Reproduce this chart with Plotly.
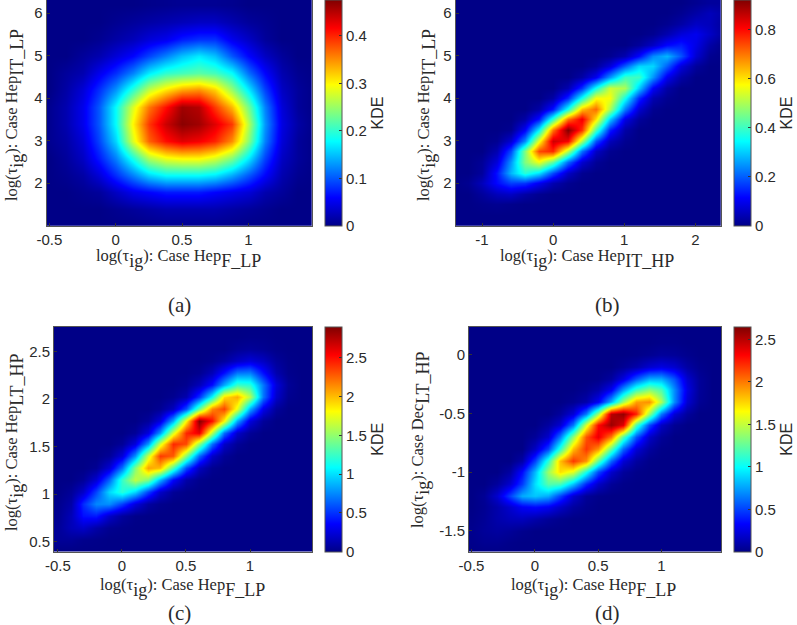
import plotly.graph_objects as go

# jet colormap
jet = [[0, "rgb(0,0,135)"], [0.125, "rgb(0,0,255)"], [0.375, "rgb(0,255,255)"],
       [0.625, "rgb(255,255,0)"], [0.875, "rgb(255,0,0)"], [1, "rgb(128,0,0)"]]

# panel (a)
a_x = [-0.5, -0.375, -0.25, -0.125, 0, 0.125, 0.25, 0.375, 0.5, 0.625, 0.75, 0.875, 1, 1.125, 1.25, 1.375, 1.5]
a_y = [1.0, 1.4, 1.8, 2.2, 2.6, 3.0, 3.4, 3.8, 4.2, 4.6, 5.0, 5.4, 5.8, 6.2]
a_z = [
    [0, 0, 0, 0, 0, 0, .002, .004, .004, .004, .004, .002, 0, 0, 0, 0, 0],
    [0, 0, 0, 0, .005, .01, .015, .02, .02, .02, .02, .015, .01, .005, 0, 0, 0],
    [0, 0, .005, .01, .03, .05, .06, .07, .07, .07, .06, .05, .04, .02, .01, 0, 0],
    [0, .005, .015, .04, .08, .12, .16, .18, .18, .18, .17, .14, .1, .06, .02, .005, 0],
    [0, .01, .03, .07, .12, .19, .26, .29, .30, .30, .28, .24, .17, .09, .03, .01, 0],
    [.005, .015, .04, .09, .16, .28, .37, .41, .43, .42, .4, .35, .24, .12, .04, .01, 0],
    [.005, .02, .05, .1, .18, .3, .39, .44, .47, .46, .43, .39, .26, .13, .045, .015, 0],
    [.005, .02, .05, .1, .18, .28, .36, .41, .46, .45, .39, .33, .23, .12, .04, .01, 0],
    [0, .015, .04, .08, .13, .2, .27, .31, .34, .35, .32, .25, .17, .09, .03, .01, 0],
    [0, .01, .02, .05, .08, .12, .17, .2, .21, .22, .21, .18, .11, .06, .02, .005, 0],
    [0, 0, .01, .02, .04, .06, .09, .12, .15, .17, .15, .1, .06, .03, .01, 0, 0],
    [0, 0, 0, .005, .015, .025, .04, .05, .07, .08, .08, .05, .03, .01, 0, 0, 0],
    [0, 0, 0, 0, .005, .01, .015, .02, .025, .03, .03, .02, .01, .005, 0, 0, 0],
    [0, 0, 0, 0, 0, 0, .002, .004, .006, .006, .006, .004, 0, 0, 0, 0, 0],
]

# panel (b)
b_x = [-1.4, -1.2, -1.0, -0.8, -0.6, -0.4, -0.2, 0, 0.2, 0.4, 0.6, 0.8, 1.0, 1.2, 1.4, 1.6, 1.8, 2.0, 2.2, 2.4]
b_y = [1.0, 1.25, 1.5, 1.75, 2.0, 2.25, 2.5, 2.75, 3.0, 3.25, 3.5, 3.75, 4.0, 4.25, 4.5, 4.75, 5.0, 5.25, 5.5, 5.75, 6.0, 6.25]
b_z = [
    [0, 0, 0, 0, 0, 0, 0, 0, 0, 0, 0, 0, 0, 0, 0, 0, 0, 0, 0, 0],
    [0, 0, 0, 0, 0, 0, 0, 0, 0, 0, 0, 0, 0, 0, 0, 0, 0, 0, 0, 0],
    [0, 0, .005, .01, .005, 0, 0, 0, 0, 0, 0, 0, 0, 0, 0, 0, 0, 0, 0, 0],
    [0, 0, .02, .05, .06, .03, .01, 0, 0, 0, 0, 0, 0, 0, 0, 0, 0, 0, 0, 0],
    [0, .01, .05, .12, .17, .16, .1, .04, .01, 0, 0, 0, 0, 0, 0, 0, 0, 0, 0, 0],
    [0, 0, .02, .13, .28, .38, .32, .18, .06, .01, 0, 0, 0, 0, 0, 0, 0, 0, 0, 0],
    [0, 0, .015, .08, .25, .46, .56, .43, .21, .07, .015, 0, 0, 0, 0, 0, 0, 0, 0, 0],
    [0, 0, 0, .04, .18, .46, .74, .77, .51, .22, .06, .01, 0, 0, 0, 0, 0, 0, 0, 0],
    [0, 0, 0, .01, .07, .24, .56, .85, .81, .5, .19, .05, .01, 0, 0, 0, 0, 0, 0, 0],
    [0, 0, 0, 0, .01, .11, .34, .7, .92, .76, .41, .14, .03, 0, 0, 0, 0, 0, 0, 0],
    [0, 0, 0, 0, 0, .03, .13, .39, .7, .82, .6, .3, .09, .02, 0, 0, 0, 0, 0, 0],
    [0, 0, 0, 0, 0, 0, .03, .13, .36, .63, .71, .5, .23, .07, .01, 0, 0, 0, 0, 0],
    [0, 0, 0, 0, 0, 0, 0, .03, .15, .36, .57, .57, .36, .15, .04, .01, 0, 0, 0, 0],
    [0, 0, 0, 0, 0, 0, 0, 0, .04, .16, .36, .53, .5, .3, .11, .03, 0, 0, 0, 0],
    [0, 0, 0, 0, 0, 0, 0, 0, 0, .03, .1, .25, .4, .4, .25, .1, .03, 0, 0, 0],
    [0, 0, 0, 0, 0, 0, 0, 0, 0, 0, .02, .08, .2, .31, .31, .2, .08, .02, 0, 0],
    [0, 0, 0, 0, 0, 0, 0, 0, 0, 0, 0, .01, .04, .12, .24, .28, .19, .07, .01, 0],
    [0, 0, 0, 0, 0, 0, 0, 0, 0, 0, 0, 0, 0, .02, .06, .12, .14, .09, .03, 0],
    [0, 0, 0, 0, 0, 0, 0, 0, 0, 0, 0, 0, 0, 0, .01, .04, .08, .1, .06, .02],
    [0, 0, 0, 0, 0, 0, 0, 0, 0, 0, 0, 0, 0, 0, 0, .01, .03, .06, .05, .02],
    [0, 0, 0, 0, 0, 0, 0, 0, 0, 0, 0, 0, 0, 0, 0, 0, .01, .03, .05, .03],
    [0, 0, 0, 0, 0, 0, 0, 0, 0, 0, 0, 0, 0, 0, 0, 0, 0, .01, .02, .02],
]

# panel (c)
c_x = [-0.5, -0.4, -0.3, -0.2, -0.1, 0, 0.1, 0.2, 0.3, 0.4, 0.5, 0.6, 0.7, 0.8, 0.9, 1.0, 1.1, 1.2, 1.3, 1.4, 1.5]
c_y = [0.4, 0.525, 0.65, 0.775, 0.9, 1.025, 1.15, 1.275, 1.4, 1.525, 1.65, 1.775, 1.9, 2.025, 2.15, 2.275, 2.4, 2.525, 2.65, 2.775]
c_z = [
    [0, 0, 0, 0, 0, 0, 0, 0, 0, 0, 0, 0, 0, 0, 0, 0, 0, 0, 0, 0, 0],
    [.05, .05, .02, .01, 0, 0, 0, 0, 0, 0, 0, 0, 0, 0, 0, 0, 0, 0, 0, 0, 0],
    [.05, .15, .2, .1, .03, .01, 0, 0, 0, 0, 0, 0, 0, 0, 0, 0, 0, 0, 0, 0, 0],
    [.03, .15, .4, .43, .2, .07, .01, 0, 0, 0, 0, 0, 0, 0, 0, 0, 0, 0, 0, 0, 0],
    [.02, .1, .48, .75, .77, .54, .26, .08, .02, 0, 0, 0, 0, 0, 0, 0, 0, 0, 0, 0, 0],
    [0, .05, .2, .55, .98, 1.2, .98, .55, .2, .05, .01, 0, 0, 0, 0, 0, 0, 0, 0, 0, 0],
    [0, 0, .05, .23, .64, 1.24, 1.63, 1.45, .87, .36, .1, .02, 0, 0, 0, 0, 0, 0, 0, 0, 0],
    [0, 0, 0, .04, .23, .69, 1.46, 2.08, 2.0, 1.3, .58, .17, .03, 0, 0, 0, 0, 0, 0, 0, 0],
    [0, 0, 0, 0, .05, .25, .78, 1.67, 2.38, 2.28, 1.47, .66, .2, .05, 0, 0, 0, 0, 0, 0, 0],
    [0, 0, 0, 0, 0, .05, .26, .8, 1.7, 2.43, 2.33, 1.5, .68, .2, .05, 0, 0, 0, 0, 0, 0],
    [0, 0, 0, 0, 0, 0, .05, .26, .8, 1.7, 2.43, 2.6, 1.6, .68, .2, .05, 0, 0, 0, 0, 0],
    [0, 0, 0, 0, 0, 0, 0, .06, .26, .85, 1.82, 2.88, 2.5, 1.82, .85, .26, .06, 0, 0, 0, 0],
    [0, 0, 0, 0, 0, 0, 0, 0, .04, .17, .58, 1.37, 2.15, 2.35, 1.75, .85, .3, .06, 0, 0, 0],
    [0, 0, 0, 0, 0, 0, 0, 0, 0, .03, .12, .5, 1.1, 1.9, 2.05, 1.6, .7, .2, .03, 0, 0],
    [0, 0, 0, 0, 0, 0, 0, 0, 0, 0, .03, .15, .4, .85, 1.25, 1.2, .7, .25, .05, 0, 0],
    [0, 0, 0, 0, 0, 0, 0, 0, 0, 0, 0, .03, .15, .4, .7, .72, .4, .12, .02, 0, 0],
    [0, 0, 0, 0, 0, 0, 0, 0, 0, 0, 0, 0, .02, .08, .18, .25, .18, .06, .01, 0, 0],
    [0, 0, 0, 0, 0, 0, 0, 0, 0, 0, 0, 0, 0, 0, .04, .06, .04, .01, 0, 0, 0],
    [0, 0, 0, 0, 0, 0, 0, 0, 0, 0, 0, 0, 0, 0, 0, .01, .01, 0, 0, 0, 0],
    [0, 0, 0, 0, 0, 0, 0, 0, 0, 0, 0, 0, 0, 0, 0, 0, 0, 0, 0, 0, 0],
]

# panel (d)
d_x = [-0.5, -0.4, -0.3, -0.2, -0.1, 0, 0.1, 0.2, 0.3, 0.4, 0.5, 0.6, 0.7, 0.8, 0.9, 1.0, 1.1, 1.2, 1.3, 1.4, 1.5]
d_y = [-1.7, -1.6, -1.5, -1.4, -1.3, -1.2, -1.1, -1.0, -0.9, -0.8, -0.7, -0.6, -0.5, -0.4, -0.3, -0.2, -0.1, 0, 0.1, 0.2, 0.3]
d_z = [
    [0, 0, 0, 0, 0, 0, 0, 0, 0, 0, 0, 0, 0, 0, 0, 0, 0, 0, 0, 0, 0],
    [.01, .03, .03, .01, 0, 0, 0, 0, 0, 0, 0, 0, 0, 0, 0, 0, 0, 0, 0, 0, 0],
    [.02, .05, .07, .05, .02, 0, 0, 0, 0, 0, 0, 0, 0, 0, 0, 0, 0, 0, 0, 0, 0],
    [.01, .04, .1, .14, .15, .1, .05, .02, 0, 0, 0, 0, 0, 0, 0, 0, 0, 0, 0, 0, 0],
    [0, .03, .1, .2, .31, .35, .3, .18, .07, .02, 0, 0, 0, 0, 0, 0, 0, 0, 0, 0, 0],
    [0, .04, .2, .5, .78, .85, .78, .5, .2, .05, .01, 0, 0, 0, 0, 0, 0, 0, 0, 0, 0],
    [0, 0, .06, .2, .48, .92, 1.22, 1.18, .85, .43, .18, .05, .01, 0, 0, 0, 0, 0, 0, 0, 0],
    [0, 0, 0, .08, .35, .82, 1.4, 1.74, 1.58, 1.05, .52, .19, .06, .01, 0, 0, 0, 0, 0, 0, 0],
    [0, 0, 0, 0, .09, .5, 1.1, 1.82, 2.18, 1.94, 1.25, .6, .22, .07, .01, 0, 0, 0, 0, 0, 0],
    [0, 0, 0, 0, 0, .17, .5, 1.1, 1.82, 2.18, 1.94, 1.25, .6, .22, .07, .01, 0, 0, 0, 0, 0],
    [0, 0, 0, 0, 0, .05, .19, .65, 1.37, 2.1, 2.38, 2.0, 1.2, .55, .18, .05, 0, 0, 0, 0, 0],
    [0, 0, 0, 0, 0, 0, .07, .2, .64, 1.55, 2.3, 2.58, 2.4, 1.2, .52, .17, .04, 0, 0, 0, 0],
    [0, 0, 0, 0, 0, 0, 0, .06, .22, .65, 1.4, 2.5, 2.6, 2.24, 1.4, .65, .22, .06, 0, 0, 0],
    [0, 0, 0, 0, 0, 0, 0, 0, .03, .1, .3, .8, 1.4, 1.9, 1.95, 1.45, .7, .2, .04, 0, 0],
    [0, 0, 0, 0, 0, 0, 0, 0, 0, .03, .1, .3, .75, 1.15, 1.35, 1.2, .7, .25, .05, 0, 0],
    [0, 0, 0, 0, 0, 0, 0, 0, 0, 0, .01, .07, .25, .55, .78, .78, .55, .2, .05, 0, 0],
    [0, 0, 0, 0, 0, 0, 0, 0, 0, 0, 0, 0, .04, .1, .2, .25, .2, .08, .02, 0, 0],
    [0, 0, 0, 0, 0, 0, 0, 0, 0, 0, 0, 0, 0, .01, .03, .06, .05, .02, 0, 0, 0],
    [0, 0, 0, 0, 0, 0, 0, 0, 0, 0, 0, 0, 0, 0, 0, .01, .01, 0, 0, 0, 0],
    [0, 0, 0, 0, 0, 0, 0, 0, 0, 0, 0, 0, 0, 0, 0, 0, 0, 0, 0, 0, 0],
    [0, 0, 0, 0, 0, 0, 0, 0, 0, 0, 0, 0, 0, 0, 0, 0, 0, 0, 0, 0, 0],
]

W, H = 797, 625
SANS = "Liberation Sans"
SERIF = "Liberation Serif"
INK = "#2a2a2a"


def lab(base, sub):
    s = '<sub><sub><span style="font-size:18px">%s</span></sub></sub>'
    return "log(\u03c4" + s % "ig" + "): Case " + base + s % sub


panels = [
    dict(x=a_x, y=a_y, z=a_z, box=(46.7, 312, 0, 225.7), xr=[-0.52, 1.48], yr=[1.0, 6.31],
         xt=[-0.5, 0, 0.5, 1], xl=["-0.5", "0", "0.5", "1"],
         yt=[2, 3, 4, 5, 6], yl=["2", "3", "4", "5", "6"],
         zmax=0.475, ct=[0, .1, .2, .3, .4], cl=["0", "0.1", "0.2", "0.3", "0.4"], cx=325,
         xtitle=lab("Hep", "F_LP"), ytitle=lab("Hep", "IT_LP"),
         xpos=(178, 258), ypos=(15, 115), cap="(a)", cappos=(179, 305)),
    dict(x=b_x, y=b_y, z=b_z, box=(455.7, 721, 0, 225.7), xr=[-1.37, 2.36], yr=[1.0, 6.31],
         xt=[-1, 0, 1, 2], xl=["-1", "0", "1", "2"],
         yt=[2, 3, 4, 5, 6], yl=["2", "3", "4", "5", "6"],
         zmax=0.92, ct=[0, .2, .4, .6, .8], cl=["0", "0.2", "0.4", "0.6", "0.8"], cx=734,
         xtitle=lab("Hep", "IT_HP"), ytitle=lab("Hep", "IT_LP"),
         xpos=(587, 258), ypos=(427, 115), cap="(b)", cappos=(607, 305)),
    dict(x=c_x, y=c_y, z=c_z, box=(54, 312, 326.7, 551.7), xr=[-0.53, 1.484], yr=[0.394, 2.76],
         xt=[-0.5, 0, 0.5, 1], xl=["-0.5", "0", "0.5", "1"],
         yt=[0.5, 1, 1.5, 2, 2.5], yl=["0.5", "1", "1.5", "2", "2.5"],
         zmax=2.9, ct=[0, .5, 1, 1.5, 2, 2.5], cl=["0", "0.5", "1", "1.5", "2", "2.5"], cx=325,
         xtitle=lab("Hep", "F_LP"), ytitle=lab("Hep", "LT_HP"),
         xpos=(182, 587), ypos=(14, 442), cap="(c)", cappos=(179, 613)),
    dict(x=d_x, y=d_y, z=d_z, box=(469, 721, 326.7, 551.7), xr=[-0.52, 1.47], yr=[-1.68, 0.24],
         xt=[-0.5, 0, 0.5, 1], xl=["-0.5", "0", "0.5", "1"],
         yt=[-1.5, -1, -0.5, 0], yl=["-1.5", "-1", "-0.5", "0"],
         zmax=2.65, ct=[0, .5, 1, 1.5, 2, 2.5], cl=["0", "0.5", "1", "1.5", "2", "2.5"], cx=734,
         xtitle=lab("Hep", "F_LP"), ytitle=lab("Dec", "LT_HP"),
         xpos=(593, 587), ypos=(420, 440), cap="(d)", cappos=(607, 613)),
]

fig = go.Figure()
notes = []
axes = {}
for i, p in enumerate(panels):
    n = "" if i == 0 else str(i + 1)
    l, r, t, b = p["box"]
    fig.add_trace(go.Heatmap(
        x=p["x"], y=p["y"], z=p["z"], xaxis="x" + n, yaxis="y" + n,
        colorscale=jet, zmin=0, zmax=p["zmax"], zsmooth="best",
        colorbar=dict(
            x=p["cx"] / W, xanchor="left", xpad=0, y=1 - t / H, yanchor="top", ypad=0,
            len=b - t, lenmode="pixels", thickness=17, thicknessmode="pixels",
            outlinewidth=1, outlinecolor="#555",
            tickmode="array", tickvals=p["ct"], ticktext=p["cl"],
            ticks="inside", ticklen=3, tickcolor="#333",
            tickfont=dict(family=SANS, size=15, color=INK),
            title=dict(text="KDE", side="right", font=dict(family=SANS, size=16, color=INK)),
        ),
    ))
    axes["xaxis" + n] = dict(
        domain=[l / W, r / W], range=p["xr"], anchor="y" + n,
        tickmode="array", tickvals=p["xt"], ticktext=p["xl"], ticks="inside", ticklen=3,
        tickcolor="#333", tickfont=dict(family=SANS, size=15, color=INK),
        showgrid=False, zeroline=False, showline=True, linecolor="#555", linewidth=1, mirror=True,
    )
    axes["yaxis" + n] = dict(
        domain=[1 - b / H, 1 - t / H], range=p["yr"], anchor="x" + n,
        tickmode="array", tickvals=p["yt"], ticktext=p["yl"], ticks="inside", ticklen=3,
        tickcolor="#333", tickfont=dict(family=SANS, size=15, color=INK),
        showgrid=False, zeroline=False, showline=True, linecolor="#555", linewidth=1, mirror=True,
    )
    notes.append(dict(text=p["xtitle"], x=p["xpos"][0] / W, y=1 - p["xpos"][1] / H,
                      font=dict(family=SERIF, size=16.5, color=INK)))
    notes.append(dict(text=p["ytitle"], x=p["ypos"][0] / W, y=1 - p["ypos"][1] / H, textangle=-90,
                      font=dict(family=SERIF, size=16.5, color=INK)))
    notes.append(dict(text=p["cap"], x=p["cappos"][0] / W, y=1 - p["cappos"][1] / H,
                      font=dict(family=SERIF, size=21, color=INK)))

for a in notes:
    a.update(xref="paper", yref="paper", showarrow=False, xanchor="center", yanchor="middle")

fig.update_layout(
    width=W, height=H, autosize=False, margin=dict(l=0, r=0, t=0, b=0, autoexpand=False),
    paper_bgcolor="white", plot_bgcolor="white", annotations=notes, **axes,
)
fig.write_html("out.html", config={"displayModeBar": False}, post_script="document.body.style.margin='0';")
